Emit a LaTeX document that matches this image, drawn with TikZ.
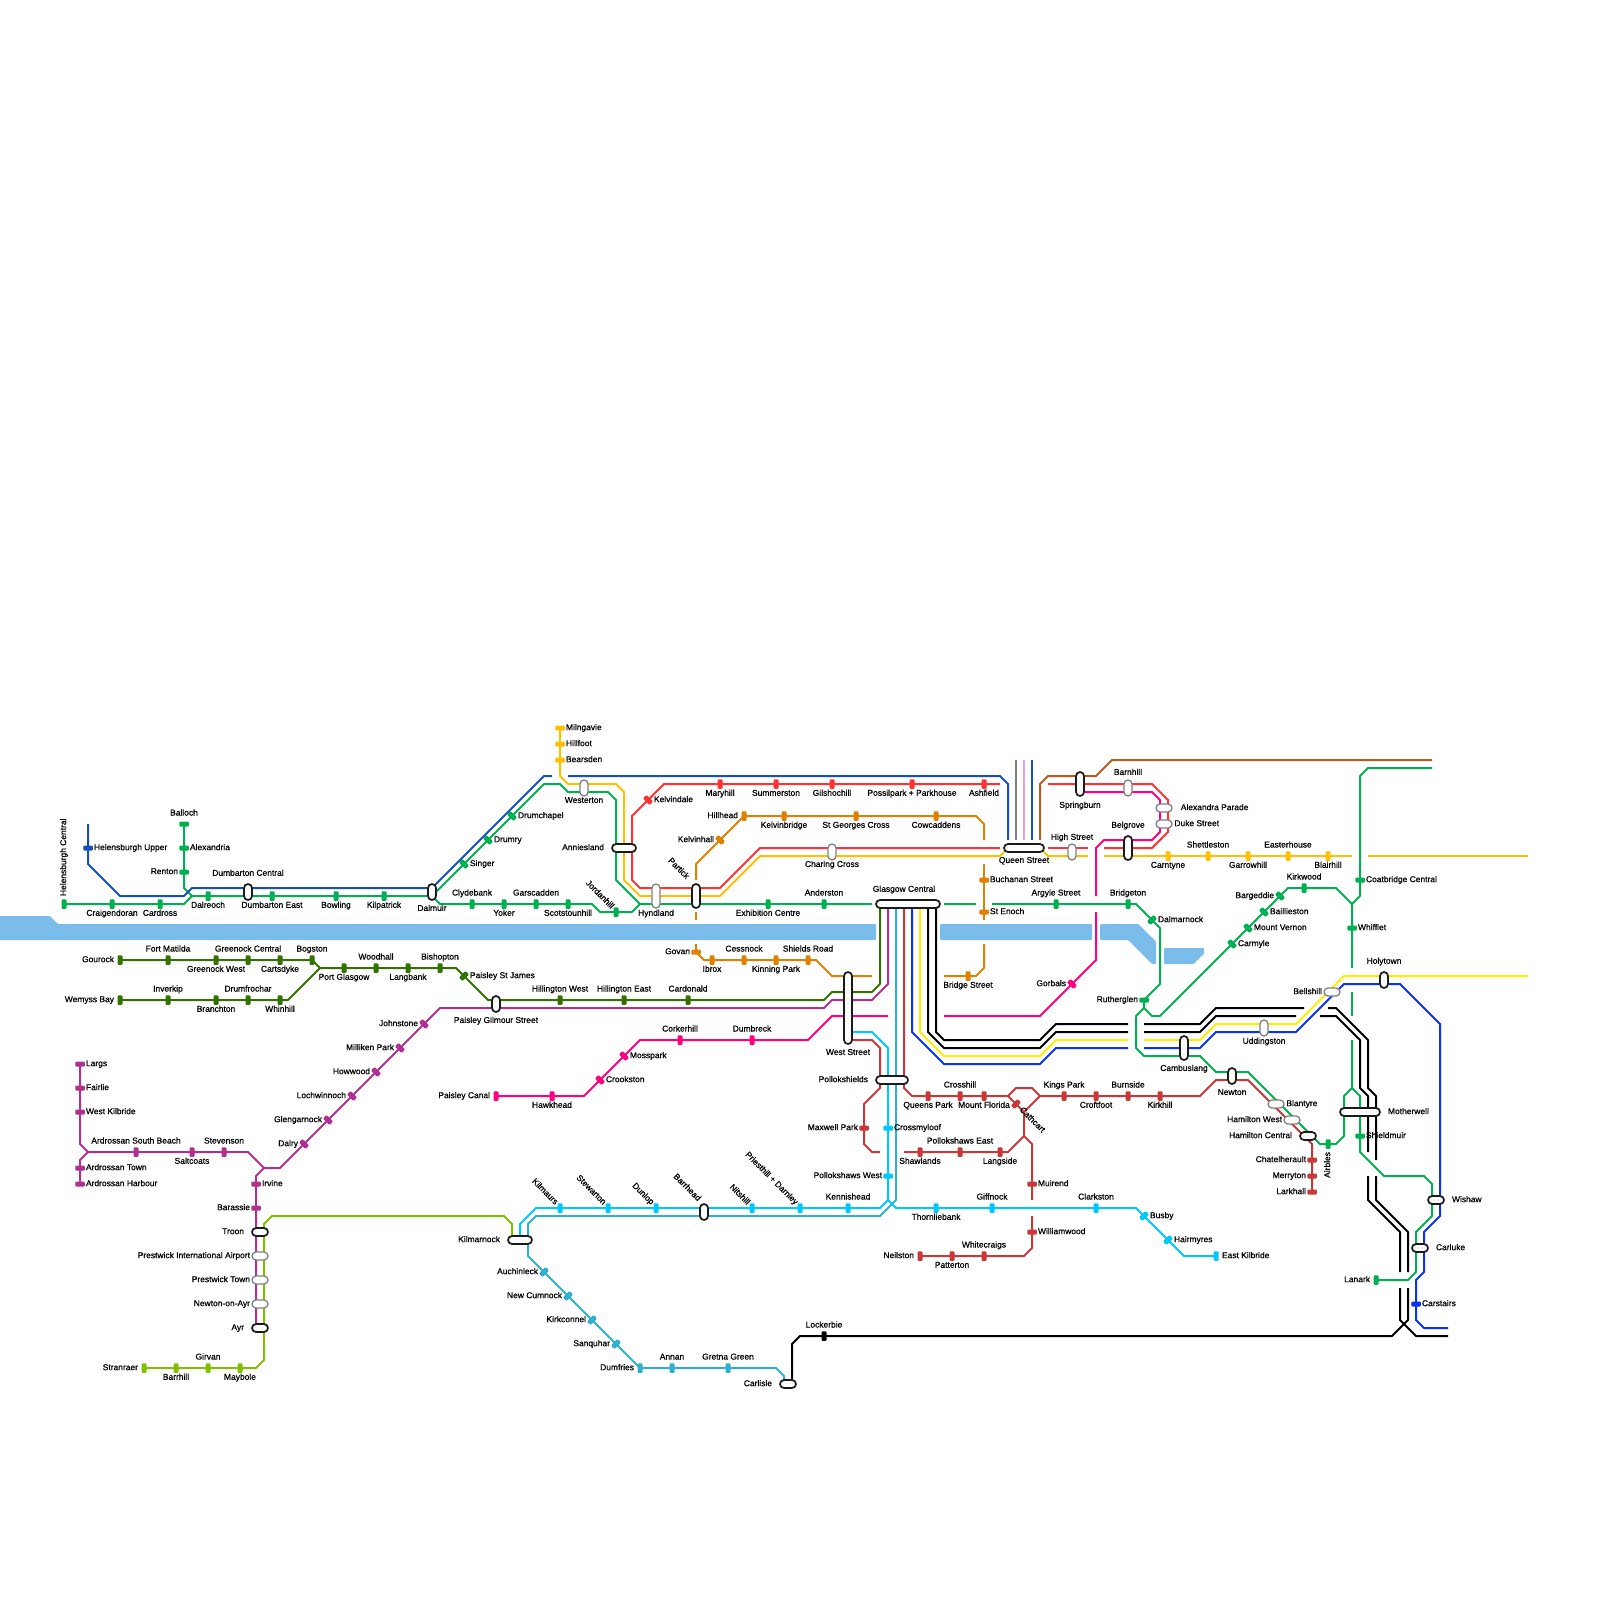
\documentclass[tikz,border=0pt]{standalone}
\usepackage{fontspec}
\setmainfont[FakeBold=0.7]{Liberation Sans}
\usetikzlibrary{calc}
\pgfdeclarelayer{lines}
\pgfdeclarelayer{river}
\pgfsetlayers{river,lines,main}
\definecolor{cRiver}{HTML}{7ABDEA}
\definecolor{cGreen}{HTML}{00B050}
\definecolor{cNavy}{HTML}{1450B8}
\definecolor{cBlue}{HTML}{0A32F0}
\definecolor{cGold}{HTML}{FFC000}
\definecolor{cYellow}{HTML}{FFEE00}
\definecolor{cRed}{HTML}{FF3333}
\definecolor{cPink}{HTML}{FF0080}
\definecolor{cOrange}{HTML}{E08000}
\definecolor{cForest}{HTML}{337100}
\definecolor{cPurple}{HTML}{B03090}
\definecolor{cLime}{HTML}{80C000}
\definecolor{cCyan}{HTML}{00C8FF}
\definecolor{cTeal}{HTML}{30B0D0}
\definecolor{cBrick}{HTML}{C83838}
\definecolor{cBrown}{HTML}{B85C1C}
\definecolor{cGrey}{HTML}{808080}
\definecolor{cLilac}{HTML}{E8A0D8}
\definecolor{cInk}{HTML}{1A1A1A}
\tikzset{
  rail/.style={line width=2pt,line join=round,draw=#1},
  tick/.style={fill=#1,rectangle,rounded corners=1pt,minimum width=5pt,minimum height=9.5pt,inner sep=0pt,outer sep=0pt},
  txt/.style={font=\fontsize{8.45}{9}\selectfont,text=black,inner sep=0pt,outer sep=0pt,text height=6pt,text depth=1.7pt},
  pill/.style={rectangle,fill=white,draw=cInk,line width=1.7pt,rounded corners=4pt,inner sep=0pt,outer sep=0pt},
  gpill/.style={rectangle,fill=white,draw=cGrey,line width=1.3pt,rounded corners=4pt,inner sep=0pt,outer sep=0pt},
}
% station: id, x, y, tick rotation, colour, label position (A B R L N), text
\newcommand{\st}[7]{%
  \node[tick=#5,rotate=#4] (#1) at (#2,#3) {};%
  \csname lab#6\endcsname{#1}{#2}{#3}{#7}}
\newcommand{\labA}[4]{\node[txt] (#1 t) at (#2,#3-1.33) {#4};}
\newcommand{\labB}[4]{\node[txt] (#1 t) at (#2,#3+1.2) {#4};}
\newcommand{\labR}[4]{\node[txt,anchor=west] (#1 t) at (#2+.75,#3) {#4};}
\newcommand{\labL}[4]{\node[txt,anchor=east] (#1 t) at (#2-.75,#3) {#4};}
\newcommand{\labN}[4]{\node[txt,rotate=-45,anchor=east] (#1 t) at (#2-.45,#3-.55) {#4};}
% pill: style, id, centre x, centre y, span x, span y (in cells)
\newcommand{\pl}[6]{\node[#1,minimum width={(#5+1)*8pt},minimum height={(#6+1)*8pt}] (#2) at (#3,#4) {};}
\newcommand{\tl}[5]{\node[txt,anchor=#4] (#1) at (#2,#3) {#5};}
\begin{document}
\begin{tikzpicture}[x=8pt,y=-8pt]
\useasboundingbox (0,0) rectangle (200,200);
% ---------- river
\begin{pgfonlayer}{river}
\fill[cRiver,rounded corners=1pt] (-1,114.5) -- (6.25,114.5) -- (7.25,115.5) -- (109.5,115.5) -- (109.5,117.5) -- (-1,117.5) -- cycle;
\fill[cRiver,rounded corners=1pt] (117.5,115.5) rectangle (136.5,117.5);
\fill[cRiver,rounded corners=1pt] (137.5,115.5) -- (142.3,115.5) -- (144.5,117.7) -- (144.5,120.5) -- (144,120.5) -- (141,117.5) -- (137.5,117.5) -- cycle;
\fill[cRiver,rounded corners=1pt] (145.5,118.5) -- (150.5,118.5) -- (150.5,119.2) -- (149.2,120.5) -- (145.5,120.5) -- cycle;
\end{pgfonlayer}
% ---------- green
\st{hc}{8}{113}{0}{cGreen}{X}{}
\node[txt,rotate=90,anchor=west] (hc t) at (8,112) {Helensburgh Central};
\st{craig}{14}{113}{0}{cGreen}{B}{Craigendoran}
\st{card}{20}{113}{0}{cGreen}{B}{Cardross}
\st{dalr}{26}{112}{0}{cGreen}{B}{Dalreoch}
\st{dume}{34}{112}{0}{cGreen}{B}{Dumbarton East}
\st{bowl}{42}{112}{0}{cGreen}{B}{Bowling}
\st{kilp}{48}{112}{0}{cGreen}{B}{Kilpatrick}
\st{ball}{23}{103}{90}{cGreen}{A}{Balloch}
\st{alex}{23}{106}{90}{cGreen}{R}{Alexandria}
\st{rent}{23}{109}{90}{cGreen}{L}{Renton}
\st{clyd}{59}{113}{0}{cGreen}{A}{Clydebank}
\st{yoke}{63}{113}{0}{cGreen}{B}{Yoker}
\st{gars}{67}{113}{0}{cGreen}{A}{Garscadden}
\st{scot}{71}{113}{0}{cGreen}{B}{Scotstounhill}
\st{jord}{77}{114}{0}{cGreen}{N}{Jordanhill}
\st{exhi}{96}{113}{0}{cGreen}{B}{Exhibition Centre}
\st{ande}{103}{113}{0}{cGreen}{A}{Anderston}
\st{argy}{132}{113}{0}{cGreen}{A}{Argyle Street}
\st{brid}{141}{113}{0}{cGreen}{A}{Bridgeton}
\st{dalm}{144}{115}{-45}{cGreen}{R}{Dalmarnock}
\st{ruth}{143}{125}{90}{cGreen}{L}{Rutherglen}
\st{sing}{58}{108}{45}{cGreen}{R}{Singer}
\st{drmy}{61}{105}{45}{cGreen}{R}{Drumry}
\st{drmc}{64}{102}{45}{cGreen}{R}{Drumchapel}
\st{carm}{154}{118}{45}{cGreen}{R}{Carmyle}
\st{mtvn}{156}{116}{45}{cGreen}{R}{Mount Vernon}
\st{bail}{158}{114}{45}{cGreen}{R}{Baillieston}
\st{barg}{160}{112}{45}{cGreen}{L}{Bargeddie}
\st{kirk}{163}{111}{0}{cGreen}{A}{Kirkwood}
\st{coat}{170}{110}{90}{cGreen}{R}{Coatbridge Central}
\st{whif}{169}{116}{90}{cGreen}{R}{Whifflet}
\st{airb}{166}{143}{0}{cGreen}{X}{}
\node[txt,rotate=90,anchor=east] (airb t) at (166,144) {Airbles};
\st{shie}{170}{142}{90}{cGreen}{R}{Shieldmuir}
\st{lana}{172}{160}{0}{cGreen}{L}{Lanark}
% ---------- navy / blue
\st{helu}{11}{106}{90}{cNavy}{R}{Helensburgh Upper}
\st{cars}{177}{163}{90}{cBlue}{R}{Carstairs}
% ---------- gold
\st{miln}{70}{91}{90}{cGold}{R}{Milngavie}
\st{hill}{70}{93}{90}{cGold}{R}{Hillfoot}
\st{bear}{70}{95}{90}{cGold}{R}{Bearsden}
\st{carn}{146}{107}{0}{cGold}{B}{Carntyne}
\st{shet}{151}{107}{0}{cGold}{A}{Shettleston}
\st{garr}{156}{107}{0}{cGold}{B}{Garrowhill}
\st{east}{161}{107}{0}{cGold}{A}{Easterhouse}
\st{blai}{166}{107}{0}{cGold}{B}{Blairhill}
% ---------- red
\st{kvdl}{81}{100}{45}{cRed}{R}{Kelvindale}
\st{mary}{90}{98}{0}{cRed}{B}{Maryhill}
\st{summ}{97}{98}{0}{cRed}{B}{Summerston}
\st{gils}{104}{98}{0}{cRed}{B}{Gilshochill}
\st{poss}{114}{98}{0}{cRed}{B}{Possilpark + Parkhouse}
\st{ashf}{123}{98}{0}{cRed}{B}{Ashfield}
% ---------- orange
\st{hhea}{93}{102}{0}{cOrange}{L}{Hillhead}
\st{kvhl}{90}{105}{45}{cOrange}{L}{Kelvinhall}
\st{kvbr}{98}{102}{0}{cOrange}{B}{Kelvinbridge}
\st{stge}{107}{102}{0}{cOrange}{B}{St Georges Cross}
\st{cowc}{117}{102}{0}{cOrange}{B}{Cowcaddens}
\st{buch}{123}{110}{90}{cOrange}{R}{Buchanan Street}
\st{sten}{123}{114}{90}{cOrange}{R}{St Enoch}
\st{gova}{87}{119}{90}{cOrange}{L}{Govan}
\st{ibro}{89}{120}{0}{cOrange}{B}{Ibrox}
\st{cess}{93}{120}{0}{cOrange}{A}{Cessnock}
\st{kinn}{97}{120}{0}{cOrange}{B}{Kinning Park}
\st{shld}{101}{120}{0}{cOrange}{A}{Shields Road}
\st{brdg}{121}{122}{0}{cOrange}{B}{Bridge Street}
% ---------- forest
\st{gour}{15}{120}{0}{cForest}{L}{Gourock}
\st{fort}{21}{120}{0}{cForest}{A}{Fort Matilda}
\st{grnw}{27}{120}{0}{cForest}{B}{Greenock West}
\st{grnc}{31}{120}{0}{cForest}{A}{Greenock Central}
\st{cart}{35}{120}{0}{cForest}{B}{Cartsdyke}
\st{bogs}{39}{120}{0}{cForest}{A}{Bogston}
\st{wemy}{15}{125}{0}{cForest}{L}{Wemyss Bay}
\st{inve}{21}{125}{0}{cForest}{A}{Inverkip}
\st{bran}{27}{125}{0}{cForest}{B}{Branchton}
\st{drum}{31}{125}{0}{cForest}{A}{Drumfrochar}
\st{whin}{35}{125}{0}{cForest}{B}{Whinhill}
\st{port}{43}{121}{0}{cForest}{B}{Port Glasgow}
\st{wood}{47}{121}{0}{cForest}{A}{Woodhall}
\st{lang}{51}{121}{0}{cForest}{B}{Langbank}
\st{bish}{55}{121}{0}{cForest}{A}{Bishopton}
\st{psjm}{58}{122}{-45}{cForest}{R}{Paisley St James}
\st{hilw}{70}{125}{0}{cForest}{A}{Hillington West}
\st{hile}{78}{125}{0}{cForest}{A}{Hillington East}
\st{cdon}{86}{125}{0}{cForest}{A}{Cardonald}
% ---------- purple
\st{john}{53}{128}{45}{cPurple}{L}{Johnstone}
\st{mill}{50}{131}{45}{cPurple}{L}{Milliken Park}
\st{howw}{47}{134}{45}{cPurple}{L}{Howwood}
\st{loch}{44}{137}{45}{cPurple}{L}{Lochwinnoch}
\st{glen}{41}{140}{45}{cPurple}{L}{Glengarnock}
\st{dlry}{38}{143}{45}{cPurple}{L}{Dalry}
\st{larg}{10}{133}{90}{cPurple}{R}{Largs}
\st{fair}{10}{136}{90}{cPurple}{R}{Fairlie}
\st{wkil}{10}{139}{90}{cPurple}{R}{West Kilbride}
\st{asb}{17}{144}{0}{cPurple}{A}{Ardrossan South Beach}
\st{salt}{24}{144}{0}{cPurple}{B}{Saltcoats}
\st{stev}{28}{144}{0}{cPurple}{A}{Stevenson}
\st{atwn}{10}{146}{90}{cPurple}{R}{Ardrossan Town}
\st{ahar}{10}{148}{90}{cPurple}{R}{Ardrossan Harbour}
\st{irvi}{32}{148}{90}{cPurple}{R}{Irvine}
\st{bara}{32}{151}{90}{cPurple}{L}{Barassie}
% ---------- lime
\st{stra}{18}{171}{0}{cLime}{L}{Stranraer}
\st{barr}{22}{171}{0}{cLime}{B}{Barrhill}
\st{girv}{26}{171}{0}{cLime}{A}{Girvan}
\st{mayb}{30}{171}{0}{cLime}{B}{Maybole}
% ---------- pink
\st{pcan}{62}{137}{0}{cPink}{L}{Paisley Canal}
\st{hawk}{69}{137}{0}{cPink}{B}{Hawkhead}
\st{croo}{75}{135}{45}{cPink}{R}{Crookston}
\st{moss}{78}{132}{45}{cPink}{R}{Mosspark}
\st{cork}{85}{130}{0}{cPink}{A}{Corkerhill}
\st{dumb}{94}{130}{0}{cPink}{A}{Dumbreck}
\st{gorb}{134}{123}{45}{cPink}{L}{Gorbals}
% ---------- cyan
\st{kmau}{70}{151}{0}{cCyan}{N}{Kilmaurs}
\st{stew}{76}{151}{0}{cCyan}{N}{Stewarton}
\st{dunl}{82}{151}{0}{cCyan}{N}{Dunlop}
\st{nits}{94}{151}{0}{cCyan}{N}{Nitshill}
\st{prie}{100}{151}{0}{cCyan}{N}{Priesthill + Darnley}
\st{kenn}{106}{151}{0}{cCyan}{A}{Kennishead}
\st{pokw}{111}{147}{90}{cCyan}{L}{Pollokshaws West}
\st{cros}{111}{141}{90}{cCyan}{R}{Crossmyloof}
\st{thor}{117}{151}{0}{cCyan}{B}{Thornliebank}
\st{giff}{124}{151}{0}{cCyan}{A}{Giffnock}
\st{clar}{137}{151}{0}{cCyan}{A}{Clarkston}
\st{busb}{143}{152}{-45}{cCyan}{R}{Busby}
\st{hair}{146}{155}{-45}{cCyan}{R}{Hairmyres}
\st{ekil}{152}{157}{0}{cCyan}{R}{East Kilbride}
% ---------- teal
\st{auch}{68}{159}{-45}{cTeal}{L}{Auchinleck}
\st{ncum}{71}{162}{-45}{cTeal}{L}{New Cumnock}
\st{kcon}{74}{165}{-45}{cTeal}{L}{Kirkconnel}
\st{sanq}{77}{168}{-45}{cTeal}{L}{Sanquhar}
\st{dumf}{80}{171}{0}{cTeal}{L}{Dumfries}
\st{anna}{84}{171}{0}{cTeal}{A}{Annan}
\st{gret}{91}{171}{0}{cTeal}{A}{Gretna Green}
% ---------- black
\st{lock}{103}{167}{0}{black}{A}{Lockerbie}
% ---------- brick
\st{quee}{116}{137}{0}{cBrick}{B}{Queens Park}
\st{crhl}{120}{137}{0}{cBrick}{A}{Crosshill}
\st{mtfl}{123}{137}{0}{cBrick}{B}{Mount Florida}
\st{cath}{127}{138}{-45}{cBrick}{X}{}
\node[txt,rotate=-45,anchor=west] (cath t) at (127.6,138.6) {Cathcart};
\st{king}{133}{137}{0}{cBrick}{A}{Kings Park}
\st{crof}{137}{137}{0}{cBrick}{B}{Croftfoot}
\st{burn}{141}{137}{0}{cBrick}{A}{Burnside}
\st{kirh}{145}{137}{0}{cBrick}{B}{Kirkhill}
\st{maxw}{108}{141}{90}{cBrick}{L}{Maxwell Park}
\st{shaw}{115}{144}{0}{cBrick}{B}{Shawlands}
\st{poke}{120}{144}{0}{cBrick}{A}{Pollokshaws East}
\st{lans}{125}{144}{0}{cBrick}{B}{Langside}
\st{muir}{129}{148}{90}{cBrick}{R}{Muirend}
\st{will}{129}{154}{90}{cBrick}{R}{Williamwood}
\st{neil}{115}{157}{0}{cBrick}{L}{Neilston}
\st{patt}{119}{157}{0}{cBrick}{B}{Patterton}
\st{whit}{123}{157}{0}{cBrick}{A}{Whitecraigs}
\st{chat}{164}{145}{90}{cBrick}{L}{Chatelherault}
\st{merr}{164}{147}{90}{cBrick}{L}{Merryton}
\st{lark}{164}{149}{90}{cBrick}{L}{Larkhall}
% ---------- pills and their labels
\pl{pill}{dumc}{31}{111.5}{0}{1}  \tl{dumc t}{31}{109.2}{center}{Dumbarton Central}
\pl{pill}{dalp}{54}{111.5}{0}{1}  \tl{dalp t}{54}{113.6}{center}{Dalmuir}
\pl{pill}{pgs}{62}{125.5}{0}{1}   \tl{pgs t}{62}{127.6}{center}{Paisley Gilmour Street}
\pl{gpill}{west}{73}{98.5}{0}{1}  \tl{west t}{73}{100.1}{center}{Westerton}
\pl{pill}{anni}{78}{106}{2}{0}    \tl{anni t}{75.5}{106}{east}{Anniesland}
\pl{gpill}{hynd}{82}{112}{0}{2}   \tl{hynd t}{82}{114.2}{center}{Hyndland}
\pl{pill}{part}{87}{112}{0}{2}    \node[txt,rotate=-45] (part t) at (84.8,108.6) {Partick};
\pl{gpill}{char}{104}{106.5}{0}{1}\tl{char t}{104}{108.1}{center}{Charing Cross}
\pl{pill}{quen}{128}{106}{4}{0}   \tl{quen t}{128}{107.6}{center}{Queen Street}
\pl{pill}{glas}{113.5}{113}{7}{0} \tl{glas t}{113}{111.2}{center}{Glasgow Central}
\pl{pill}{spri}{135}{98}{0}{2}    \tl{spri t}{135}{100.7}{center}{Springburn}
\pl{gpill}{barn}{141}{98.5}{0}{1} \tl{barn t}{141}{96.6}{center}{Barnhill}
\pl{gpill}{alep}{145.5}{101}{1}{0}\tl{alep t}{147.6}{101}{west}{Alexandra Parade}
\pl{gpill}{duke}{145.5}{103}{1}{0}\tl{duke t}{146.8}{103}{west}{Duke Street}
\pl{pill}{belg}{141}{106}{0}{2}   \tl{belg t}{141}{103.2}{center}{Belgrove}
\pl{gpill}{high}{134}{106.5}{0}{1}\tl{high t}{134}{104.7}{center}{High Street}
\pl{pill}{holy}{173}{122.5}{0}{1} \tl{holy t}{173}{120.2}{center}{Holytown}
\pl{gpill}{bell}{166.5}{124}{1}{0}\tl{bell t}{165.25}{124}{east}{Bellshill}
\pl{gpill}{uddi}{158}{128.5}{0}{1}\tl{uddi t}{158}{130.2}{center}{Uddingston}
\pl{pill}{camb}{148}{131}{0}{2}   \tl{camb t}{148}{133.6}{center}{Cambuslang}
\pl{pill}{newt}{154}{134.5}{0}{1} \tl{newt t}{154}{136.6}{center}{Newton}
\pl{gpill}{blan}{159.5}{138}{1}{0}\tl{blan t}{160.8}{138}{west}{Blantyre}
\pl{gpill}{hamw}{161.5}{140}{1}{0}\tl{hamw t}{160.25}{140}{east}{Hamilton West}
\pl{pill}{hamc}{163.5}{142}{1}{0} \tl{hamc t}{161.5}{142}{east}{Hamilton Central}
\pl{pill}{moth}{170}{139}{4}{0}   \tl{moth t}{173.5}{139}{west}{Motherwell}
\pl{pill}{wish}{179.5}{150}{1}{0} \tl{wish t}{181.5}{150}{west}{Wishaw}
\pl{pill}{carl}{177.5}{156}{1}{0} \tl{carl t}{179.5}{156}{west}{Carluke}
\pl{pill}{wsts}{106}{126}{0}{8}   \tl{wsts t}{106}{131.6}{center}{West Street}
\pl{pill}{poll}{111.5}{135}{3}{0} \tl{poll t}{108.5}{135}{east}{Pollokshields}
\pl{pill}{kilm}{65}{155}{2}{0}    \tl{kilm t}{62.5}{155}{east}{Kilmarnock}
\pl{pill}{clis}{98.5}{173}{1}{0}  \tl{clis t}{96.5}{173}{east}{Carlisle}
\pl{pill}{troo}{32.5}{154}{1}{0}  \tl{troo t}{30.5}{154}{east}{Troon}
\pl{gpill}{pria}{32.5}{157}{1}{0} \tl{pria t}{31.25}{157}{east}{Prestwick International Airport}
\pl{gpill}{prtw}{32.5}{160}{1}{0} \tl{prtw t}{31.25}{160}{east}{Prestwick Town}
\pl{gpill}{nona}{32.5}{163}{1}{0} \tl{nona t}{31.25}{163}{east}{Newton-on-Ayr}
\pl{pill}{ayrs}{32.5}{166}{1}{0}  \tl{ayrs t}{30.5}{166}{east}{Ayr}
\pl{pill}{brrh}{88}{151.5}{0}{1}  \node[txt,rotate=-45,anchor=east] (brrh t) at (87.4,150) {Barrhead};
% ---------- rails
\begin{pgfonlayer}{lines}
% green
\draw[rail=cGreen] (hc.center) -- (23,113) -- (24,112) -- (54,112);
\draw[rail=cGreen] (ball.center) -- (23,111) -- (24,112);
\draw[rail=cGreen] (54,112) -- (55,113) -- (74,113) -- (75,114) -- (79,114) -- (80,113) -- (109,113);
\draw[rail=cGreen] (118,113) -- (122,113);
\draw[rail=cGreen] (124,113) -- (142,113) -- (145,116) -- (145,123) -- (143,125) -- (143,126) -- (144,127) -- (145,127) -- (161,111) -- (167,111) -- (169,113) -- (169,121);
\draw[rail=cGreen] (169,113) -- (170,112) -- (170,97) -- (171,96) -- (179,96);
\draw[rail=cGreen] (54,112) -- (68,98) -- (70,98) -- (71,99) -- (76,99) -- (77,100) -- (77,110) -- (80,113);
\draw[rail=cGreen] (143,126) -- (142,127) -- (142,131) -- (143,132) -- (150,132) -- (152,134) -- (156,134) -- (165,143) -- (167,143) -- (168,142) -- (168,137) -- (169,136) -- (169,130);
\draw[rail=cGreen] (169,124) -- (169,127);
\draw[rail=cGreen] (169,136) -- (170,137) -- (170,144) -- (173,147) -- (178,147) -- (179,148) -- (179,152) -- (177,154) -- (177,159) -- (176,160) -- (lana.center);
% navy
\draw[rail=cNavy] (11,103) -- (11,108) -- (15,112) -- (23,112) -- (24,111) -- (54,111) -- (68,97) -- (69,97);
\draw[rail=cNavy] (71,97) -- (125,97) -- (126,98) -- (126,105);
\draw[rail=cGrey] (127,95) -- (127,105);
\draw[rail=cLilac] (128,95) -- (128,105);
\draw[rail=cNavy] (129,95) -- (129,105);
% brown
\draw[rail=cBrown] (130,105) -- (130,98) -- (131,97) -- (137,97) -- (139,95) -- (179,95);
% red
\draw[rail=cRed] (125,98) -- (83,98) -- (79,102) -- (79,110) -- (80,111) -- (90,111) -- (95,106) -- (125,106);
\draw[rail=cRed] (131,106) -- (136,106);
\draw[rail=cRed] (138,106) -- (144,106) -- (146,104) -- (146,100) -- (144,98) -- (131,98);
% pink
\draw[rail=cPink] (135,99) -- (144,99) -- (145,100) -- (145,104) -- (144,105) -- (138,105) -- (137,106) -- (137,112);
\draw[rail=cPink] (137,114) -- (137,120) -- (130,127) -- (118,127);
\draw[rail=cPink] (111,127) -- (104,127) -- (101,130) -- (80,130) -- (73,137) -- (pcan.center);
% gold
\draw[rail=cGold] (miln.center) -- (70,97) -- (71,98) -- (77,98) -- (78,99) -- (78,110) -- (80,112) -- (90,112) -- (95,107) -- (125,107) -- (126,106);
\draw[rail=cGold] (130,106) -- (131,107) -- (136,107);
\draw[rail=cGold] (138,107) -- (169,107);
\draw[rail=cGold] (171,107) -- (191,107);
% orange
\draw[rail=cOrange] (87,110) -- (87,108) -- (93,102) -- (122,102) -- (123,103) -- (123,105);
\draw[rail=cOrange] (87,114) -- (87,115);
\draw[rail=cOrange] (87,118) -- (87,119) -- (88,120) -- (102,120) -- (104,122) -- (109,122);
\draw[rail=cOrange] (118,122) -- (122,122) -- (123,121) -- (123,118);
\draw[rail=cOrange] (123,108) -- (123,115);
% forest
\draw[rail=cForest] (110,113) -- (110,123) -- (109,124) -- (104,124) -- (103,125) -- (61,125) -- (57,121) -- (40,121) -- (39,120) -- (gour.center);
\draw[rail=cForest] (40,121) -- (36,125) -- (wemy.center);
% purple
\draw[rail=cPurple] (111,113) -- (111,123) -- (109,125) -- (104,125) -- (103,126) -- (55,126) -- (35,146) -- (33,146) -- (32,147) -- (32,166);
\draw[rail=cPurple] (33,146) -- (31,144) -- (11,144) -- (10,143) -- (larg.center);
\draw[rail=cPurple] (11,144) -- (10,145) -- (ahar.center);
% lime
\draw[rail=cLime] (64,155) -- (64,153) -- (63,152) -- (34,152) -- (33,153) -- (33,170) -- (32,171) -- (stra.center);
% teal
\draw[rail=cTeal] (112,113) -- (112,150) -- (110,152) -- (67,152) -- (66,153) -- (66,157) -- (80,171) -- (97,171) -- (98,172) -- (98,173);
% cyan
\draw[rail=cCyan] (106,129) -- (109,129) -- (111,131) -- (111,150) -- (110,151) -- (67,151) -- (65,153) -- (65,155);
\draw[rail=cCyan] (111,150) -- (112,151) -- (142,151) -- (148,157) -- (ekil.center);
% brick
\draw[rail=cBrick] (113,113) -- (113,136) -- (114,137) -- (126,137) -- (127,136) -- (129,136) -- (130,137) -- (150,137) -- (152,135) -- (156,135) -- (164,143) -- (lark.center);
\draw[rail=cBrick] (126,137) -- (128,139) -- (130,137);
\draw[rail=cBrick] (128,139) -- (128,142) -- (126,144) -- (113,144);
\draw[rail=cBrick] (128,142) -- (129,143) -- (129,150);
\draw[rail=cBrick] (129,152) -- (129,156) -- (128,157) -- (neil.center);
\draw[rail=cBrick] (106,130) -- (109,130) -- (110,131) -- (110,136) -- (108,138) -- (108,143) -- (109,144) -- (110,144);
% blue, yellow, black from Glasgow Central eastwards
\draw[rail=cBlue] (114,113) -- (114,129) -- (118,133) -- (130,133) -- (132,131) -- (141,131);
\draw[rail=cBlue] (143,131) -- (150,131) -- (152,129) -- (162,129) -- (168,123) -- (175,123) -- (180,128) -- (180,152) -- (178,154) -- (178,159) -- (177,160) -- (177,165) -- (178,166) -- (181,166);
\draw[rail=cYellow] (115,113) -- (115,129) -- (118,132) -- (130,132) -- (132,130) -- (141,130);
\draw[rail=cYellow] (143,130) -- (150,130) -- (152,128) -- (162,128) -- (168,122) -- (191,122);
\draw[rail=black] (116,113) -- (116,129) -- (118,131) -- (130,131) -- (132,129) -- (141,129);
\draw[rail=black] (143,129) -- (150,129) -- (152,127) -- (162,127);
\draw[rail=black] (117,113) -- (117,129) -- (118,130) -- (130,130) -- (132,128) -- (141,128);
\draw[rail=black] (143,128) -- (150,128) -- (152,126) -- (163,126);
\draw[rail=black] (166,126) -- (167,126) -- (171,130) -- (171,136) -- (172,137) -- (172,145);
\draw[rail=black] (165,127) -- (167,127) -- (170,130) -- (170,136) -- (171,137) -- (171,144);
\draw[rail=black] (172,147) -- (172,150) -- (176,154) -- (176,159);
\draw[rail=black] (171,147) -- (171,150) -- (175,154) -- (175,159);
\draw[rail=black] (176,161) -- (176,165) -- (174,167) -- (100,167) -- (99,168) -- (99,173);
\draw[rail=black] (175,161) -- (175,165) -- (177,167) -- (181,167);
\end{pgfonlayer}
\end{tikzpicture}
\end{document}
